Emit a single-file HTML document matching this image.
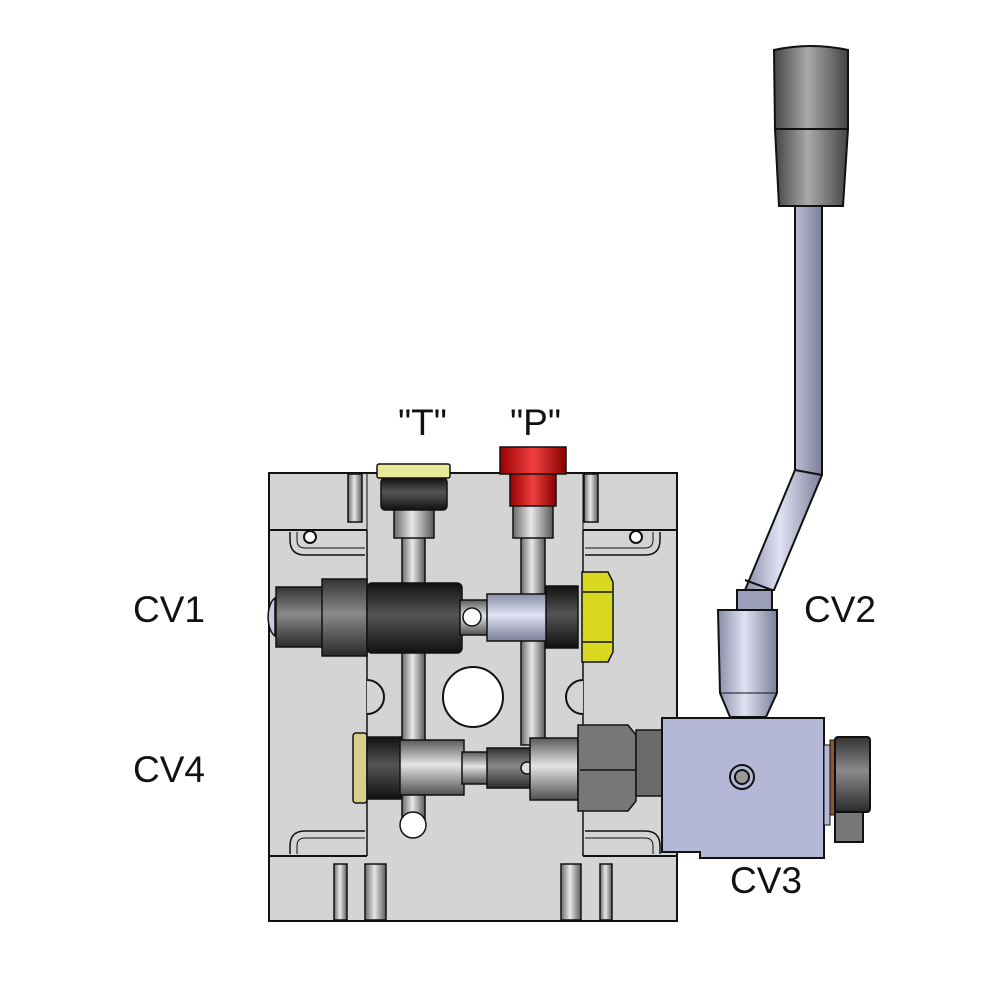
<!DOCTYPE html>
<html><head><meta charset="utf-8"><style>
html,body{margin:0;padding:0;background:#fff;}
svg{display:block}
text{font-family:"Liberation Sans",sans-serif;fill:#111;}
</style></head><body>
<svg width="1000" height="1000" viewBox="0 0 1000 1000" xmlns="http://www.w3.org/2000/svg">
<defs>
<linearGradient id="steel" x1="0" x2="1" y1="0" y2="0">
<stop offset="0" stop-color="#6a6a6a"/><stop offset="0.45" stop-color="#e8e8e8"/><stop offset="1" stop-color="#5a5a5a"/></linearGradient>
<linearGradient id="steelv" x1="0" x2="0" y1="0" y2="1">
<stop offset="0" stop-color="#5a5a5a"/><stop offset="0.45" stop-color="#e4e4e4"/><stop offset="1" stop-color="#505050"/></linearGradient>
<linearGradient id="darkv" x1="0" x2="0" y1="0" y2="1">
<stop offset="0" stop-color="#333"/><stop offset="0.45" stop-color="#8a8a8a"/><stop offset="1" stop-color="#2a2a2a"/></linearGradient>
<linearGradient id="blackv" x1="0" x2="0" y1="0" y2="1">
<stop offset="0" stop-color="#111"/><stop offset="0.45" stop-color="#555"/><stop offset="1" stop-color="#111"/></linearGradient>
<linearGradient id="bluev" x1="0" x2="0" y1="0" y2="1">
<stop offset="0" stop-color="#8a8ea8"/><stop offset="0.45" stop-color="#dfe2f2"/><stop offset="1" stop-color="#7a7e98"/></linearGradient>
<linearGradient id="blueh" x1="0" x2="1" y1="0" y2="0">
<stop offset="0" stop-color="#8a8ea8"/><stop offset="0.45" stop-color="#dfe2f2"/><stop offset="1" stop-color="#7a7e98"/></linearGradient>
<linearGradient id="red" x1="0" x2="1" y1="0" y2="0">
<stop offset="0" stop-color="#900"/><stop offset="0.5" stop-color="#f04040"/><stop offset="1" stop-color="#800"/></linearGradient>
<linearGradient id="knob" x1="0" x2="1" y1="0" y2="0">
<stop offset="0" stop-color="#444"/><stop offset="0.45" stop-color="#aaa"/><stop offset="1" stop-color="#444"/></linearGradient>
</defs>

<!-- labels -->
<text x="398" y="435" font-size="37">"T"</text>
<text x="510" y="435" font-size="37">"P"</text>
<text x="133" y="622" font-size="37">CV1</text>
<text x="804" y="622" font-size="37">CV2</text>
<text x="133" y="782" font-size="37">CV4</text>
<text x="730" y="893" font-size="37">CV3</text>

<!-- manifold block -->
<g stroke="#111" stroke-width="2" fill="#d4d4d4">
<rect x="269" y="473" width="408" height="448"/>
<line x1="269" y1="530" x2="367" y2="530"/>
<line x1="583" y1="530" x2="677" y2="530"/>
<line x1="269" y1="856" x2="367" y2="856"/>
<line x1="583" y1="856" x2="677" y2="856"/>
<line x1="367" y1="530" x2="367" y2="856" stroke-width="1.5"/>
<line x1="583" y1="530" x2="583" y2="856" stroke-width="1.5"/>
<line x1="367" y1="473" x2="367" y2="530" stroke-width="1"/>
<line x1="583" y1="473" x2="583" y2="530" stroke-width="1"/>
<!-- notches -->
<path d="M367 680 A17 17 0 0 1 367 714" fill="#d4d4d4"/>
<path d="M583 680 A17 17 0 0 0 583 714" fill="#d4d4d4"/>
<!-- slots top -->
<rect x="348" y="474" width="14" height="48" fill="url(#steel)" stroke-width="1.5"/>
<rect x="584" y="474" width="14" height="48" fill="url(#steel)" stroke-width="1.5"/>
<!-- slots bottom -->
<rect x="334" y="864" width="13" height="56" fill="url(#steel)" stroke-width="1.5"/>
<rect x="365" y="864" width="21" height="56" fill="url(#steel)" stroke-width="1.5"/>
<rect x="561" y="864" width="20" height="56" fill="url(#steel)" stroke-width="1.5"/>
<rect x="600" y="864" width="12" height="56" fill="url(#steel)" stroke-width="1.5"/>
<!-- corner brackets -->
<path d="M290 532 L290 540 Q290 555 305 555 L365 555" fill="none" stroke-width="1.5"/>
<path d="M297 532 L297 540 Q297 548 305 548 L365 548" fill="none" stroke-width="1"/>
<circle cx="310" cy="537" r="6" fill="#fff"/>
<path d="M660 532 L660 540 Q660 555 645 555 L585 555" fill="none" stroke-width="1.5"/>
<path d="M653 532 L653 540 Q653 548 645 548 L585 548" fill="none" stroke-width="1"/>
<circle cx="636" cy="537" r="6" fill="#fff"/>
<path d="M290 854 L290 846 Q290 831 305 831 L365 831" fill="none" stroke-width="1.5"/>
<path d="M297 854 L297 846 Q297 838 305 838 L365 838" fill="none" stroke-width="1"/>
<path d="M660 854 L660 846 Q660 831 645 831 L585 831" fill="none" stroke-width="1.5"/>
<path d="M653 854 L653 846 Q653 838 645 838 L585 838" fill="none" stroke-width="1"/>
<!-- big hole -->
<circle cx="473" cy="697" r="30" fill="#fff"/>
</g>

<!-- vertical tubes -->
<g stroke="#111" stroke-width="1.5">
<rect x="402" y="535" width="23" height="290" fill="url(#steel)"/>
<circle cx="413" cy="825" r="13" fill="#fff"/>
<rect x="521" y="535" width="24" height="210" fill="url(#steel)"/>
</g>

<!-- T plug -->
<g stroke="#111" stroke-width="1.5">
<rect x="394" y="508" width="40" height="30" fill="url(#steel)"/>
<rect x="381" y="478" width="66" height="32" rx="4" fill="url(#blackv)"/>
<rect x="377" y="464" width="73" height="14" rx="2" fill="#e8e89a"/>
<!-- P plug -->
<rect x="513" y="505" width="40" height="33" fill="url(#steel)"/>
<rect x="510" y="473" width="46" height="33" fill="url(#red)"/>
<rect x="500" y="447" width="66" height="27" fill="url(#red)"/>
</g>

<!-- CV1 -->
<g stroke="#111" stroke-width="1.5">
<path d="M275 598 A10 20 0 0 0 275 636 Z" fill="#c8cbe0"/>
<rect x="276" y="587" width="48" height="60" fill="url(#darkv)"/>
<rect x="322" y="579" width="45" height="77" fill="url(#darkv)"/>
<rect x="367" y="583" width="95" height="70" rx="5" fill="url(#blackv)"/>
<rect x="460" y="600" width="30" height="35" fill="url(#steelv)"/>
<circle cx="472" cy="617" r="9" fill="#fff"/>
<rect x="487" y="594" width="60" height="47" fill="url(#bluev)"/>
<rect x="546" y="586" width="32" height="62" fill="url(#blackv)"/>
<path d="M582 572 L608 572 L613 582 L613 652 L608 662 L582 662 Z" fill="#d8d820"/>
<line x1="583" y1="592" x2="612" y2="592"/><line x1="583" y1="642" x2="612" y2="642"/>
</g>

<!-- CV4 -->
<g stroke="#111" stroke-width="1.5">
<rect x="353" y="733" width="14" height="70" rx="3" fill="#d8d08a"/>
<rect x="367" y="737" width="34" height="62" fill="url(#blackv)"/>
<rect x="400" y="740" width="64" height="55" fill="url(#steelv)"/>
<rect x="462" y="752" width="30" height="32" fill="url(#steelv)"/>
<rect x="487" y="748" width="44" height="40" fill="url(#darkv)"/>
<circle cx="527" cy="768" r="6" fill="#ddd"/>
<rect x="530" y="738" width="48" height="62" fill="url(#steelv)"/>
<path d="M578 725 L628 725 L636 735 L636 801 L628 811 L578 811 Z" fill="#777"/>
<line x1="580" y1="770" x2="635" y2="770"/>
<rect x="636" y="730" width="28" height="66" fill="#6a6a6a"/>
</g>

<!-- lever -->
<g stroke="#111" stroke-width="2">
<path d="M795 205 L822 205 L822 475 L774 590 L745 590 L795 470 Z" fill="url(#blueh)"/>
<line x1="795" y1="470" x2="822" y2="475"/>
<line x1="745" y1="580" x2="772" y2="590"/>
<path d="M775 129 L848 129 L843 206 L779 206 Z" fill="url(#knob)"/>
<path d="M774 50 Q811 42 848 50 L848 129 L775 129 Z" fill="url(#knob)"/>
<rect x="737" y="590" width="35" height="20" fill="#9a9eb8"/>
<path d="M718 610 L777 610 L777 693 L766 717 L730 717 L720 693 Z" fill="url(#blueh)"/>
<line x1="720" y1="693" x2="777" y2="693" stroke-width="1"/>
</g>

<!-- CV3 block -->
<g stroke="#111" stroke-width="2">
<path d="M662 718 L824 718 L824 858 L700 858 L700 852 L662 852 Z" fill="#b4b8d6"/>
<circle cx="742" cy="777" r="12" fill="#b4b8d6"/>
<circle cx="742" cy="777" r="7" fill="#999"/>
<rect x="824" y="745" width="6" height="80" fill="#b4b8d6" stroke-width="1"/>
<rect x="830" y="740" width="5" height="75" fill="#8a5a30" stroke-width="1"/>
<rect x="835" y="737" width="35" height="75" rx="3" fill="url(#darkv)"/>
<rect x="835" y="812" width="28" height="30" fill="#777"/>
</g>
</svg>
</body></html>
